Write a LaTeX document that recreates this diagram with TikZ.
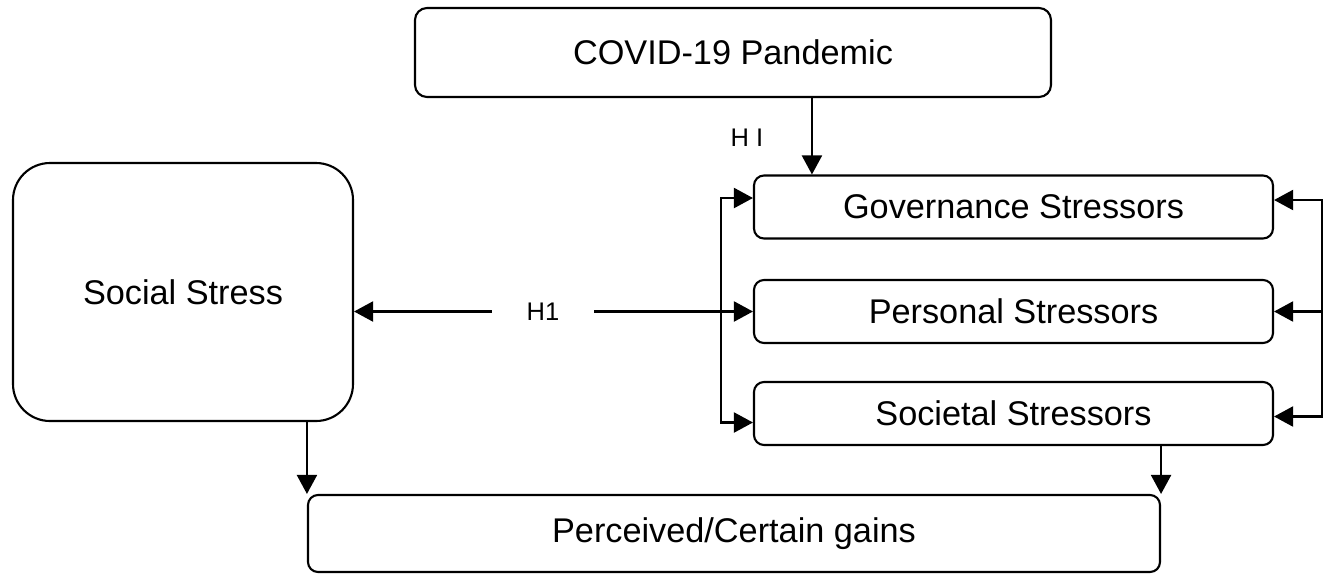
\documentclass[tikz,border=0pt]{standalone}
\usepackage{fontspec}
\setmainfont{Liberation Sans}
\usetikzlibrary{arrows.meta, positioning}

\begin{document}
\begin{tikzpicture}[->, >={Triangle[length=0.38cm,width=0.4cm]}, line width=1.2pt, draw=black]
    \tikzstyle{box}=[rectangle, draw, rounded corners=0.24cm, inner sep=0pt, font=\fontsize{19.5}{23}\selectfont]
    \tikzstyle{stressor}=[box, minimum width=10.38cm, minimum height=1.26cm, rounded corners=0.2cm]
    \tikzstyle{annot}=[font=\fontsize{14.5}{17}\selectfont]

    \useasboundingbox (0,0) rectangle (26.48,-11.48);

    % Draw the top and bottom boxes
    \node[box, minimum width=12.72cm, minimum height=1.78cm] (covid) at (14.66,-1.05) {COVID-19 Pandemic};
    \node[box, minimum width=17.04cm, minimum height=1.54cm, rounded corners=0.2cm] (gains) at (14.68,-10.67) {Perceived/Certain gains};
    \node[box, minimum width=6.8cm, minimum height=5.16cm, rounded corners=0.74cm] (social) at (3.66,-5.84) {Social Stress};

    % Draw the stressor boxes
    \foreach \name / \y / \txt in {gov/-4.14/Governance Stressors, pers/-6.23/Personal Stressors, soc/-8.27/Societal Stressors}
        \node[stressor] (\name) at (20.27,\y) {\txt};

    % Hypothesis labels
    \node[annot] (hI) at (14.94,-2.76) {H I};
    \node[annot, minimum width=2cm] (h1) at (10.86,-6.23) {H1};

    \coordinate (hI-arrow) at ([xshift=1.18cm]gov.north west);
    \draw (covid.south -| hI-arrow) -- (hI-arrow);
    \draw (h1.west) -- (h1 -| social.east);
    \draw (h1.east) -- (pers.west);

    % Brackets on both sides of the stressors
    \coordinate (lt) at ([xshift=-0.64cm, yshift=0.18cm]gov.west);
    \coordinate (lb) at ([xshift=-0.64cm, yshift=-0.18cm]soc.west);
    \draw[<->] (lt -| gov.west) -- (lt) -- (lb) -- (lb -| soc.west);

    \coordinate (rt) at ([xshift=0.96cm, yshift=0.14cm]gov.east);
    \coordinate (rb) at ([xshift=0.96cm, yshift=-0.06cm]soc.east);
    \draw[<->] (rt -| gov.east) -- (rt) -- (rb) -- (rb -| soc.east);
    \draw (rt |- pers.east) -- (pers.east);

    % Into the gains box
    \draw (social.south -| gains.north west) -- (gains.north west);
    \draw (soc.south -| gains.north east) -- (gains.north east);
\end{tikzpicture}
\end{document}
